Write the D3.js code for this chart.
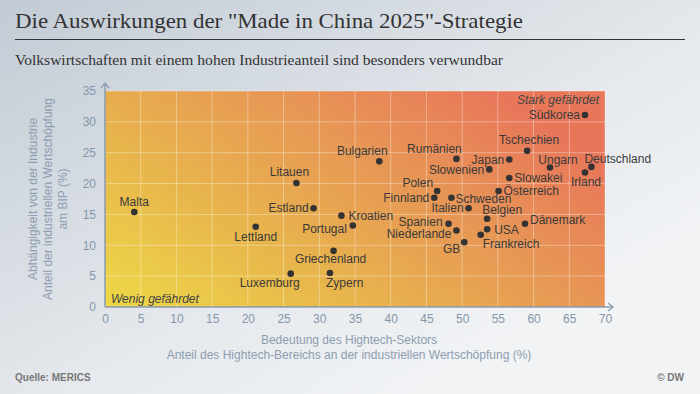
<!DOCTYPE html>
<html>
<head>
<meta charset="utf-8">
<script src="https://cdn.jsdelivr.net/npm/d3@7"></script>
<style>
    body { margin: 0; }
    svg { display: block; font-family: "Liberation Sans", Arial, sans-serif; }
</style>
</head>
<body>
<div id="chart"></div>
<script>
// Länder, Anteil Hightech (x) und Industrieanteil am BIP (y)
const countries = ["Malta", "Litauen", "Estland", "Kroatien", "Portugal", "Lettland", "Griechenland",
    "Luxemburg", "Zypern", "Südkorea", "Tschechien", "Bulgarien", "Rumänien", "Japan", "Ungarn",
    "Deutschland", "Irland", "Slowenien", "Slowakei", "Polen", "Österreich", "Finnland", "Schweden",
    "Italien", "Belgien", "Dänemark", "Spanien", "USA", "Niederlande", "Frankreich", "GB"];
const hightech = [4.1, 26.8, 29.2, 33.1, 34.7, 21.1, 32.0,
    26.0, 31.5, 67.2, 59.1, 38.4, 49.2, 56.6, 62.3,
    68.1, 67.2, 53.8, 56.6, 46.5, 55.1, 46.1, 48.5,
    50.9, 53.5, 58.8, 48.1, 53.5, 49.2, 52.6, 50.3];
const industry = [15.4, 20.1, 16.0, 14.8, 13.2, 13.0, 9.1,
    5.4, 5.5, 31.1, 25.3, 23.6, 24.0, 23.9, 22.6,
    22.7, 21.8, 22.3, 20.9, 18.8, 18.8, 17.7, 17.7,
    16.0, 14.3, 13.5, 13.5, 12.6, 12.4, 11.7, 10.5];
const xTicks = [0, 5, 10, 15, 20, 25, 30, 35, 40, 45, 50, 55, 60, 65, 70];
const yTicks = [0, 5, 10, 15, 20, 25, 30, 35];

// Beschriftung: Ausrichtung, dx, dy relativ zum Punkt
const labelPos = {
    "Malta": ["middle", 0, -6], "Litauen": ["middle", -7, -7], "Estland": ["end", -5, 4],
    "Kroatien": ["start", 7, 4], "Portugal": ["end", -6, 7], "Lettland": ["middle", 0, 14],
    "Griechenland": ["middle", -3, 12], "Luxemburg": ["end", 9, 13], "Zypern": ["start", -4, 14],
    "Südkorea": ["end", -5, 4], "Tschechien": ["middle", 2, -7], "Bulgarien": ["middle", -17, -6],
    "Rumänien": ["middle", -22, -6], "Japan": ["end", -5, 4], "Ungarn": ["middle", 8, -4],
    "Deutschland": ["start", -7, -4], "Irland": ["middle", 1, 14], "Slowenien": ["end", -5, 5],
    "Slowakei": ["start", 5, 4], "Polen": ["end", -4, -4], "Österreich": ["start", 5, 4],
    "Finnland": ["end", -5, 4], "Schweden": ["start", 4, 5], "Italien": ["end", -5, 4],
    "Belgien": ["start", -5, -5], "Dänemark": ["start", 5, 0], "Spanien": ["end", -6, 2],
    "USA": ["start", 7, 5], "Niederlande": ["end", -5, 8], "Frankreich": ["start", 2, 13],
    "GB": ["end", -4, 11]
};

const width = 700, height = 394;
const margin = {top: 91, right: 95, bottom: 87, left: 105};
const plotW = width - margin.left - margin.right;
const plotH = height - margin.top - margin.bottom;

const svg = d3.select("#chart").append("svg")
    .attr("width", width)
    .attr("height", height);

const defs = svg.append("defs");

let bg = defs.append("linearGradient")
    .attr("id", "bg")
    .attr("x1", "0").attr("y1", "0")
    .attr("x2", "1").attr("y2", "1");
bg.append("stop").attr("offset", "0").attr("stop-color", "#c2cbd5");
bg.append("stop").attr("offset", "0.55").attr("stop-color", "#e6e9ed");
bg.append("stop").attr("offset", "0.8").attr("stop-color", "#f1f3f5");
bg.append("stop").attr("offset", "1").attr("stop-color", "#f1f3f5");

let heat = defs.append("linearGradient")
    .attr("id", "heat")
    .attr("x1", "0").attr("y1", "1")
    .attr("x2", "1").attr("y2", "0.35");
heat.append("stop").attr("offset", "0").attr("stop-color", "#edd947");
heat.append("stop").attr("offset", "0.35").attr("stop-color", "#e8b64c");
heat.append("stop").attr("offset", "0.7").attr("stop-color", "#e79655");
heat.append("stop").attr("offset", "1").attr("stop-color", "#e8775a");

svg.append("rect")
    .attr("width", width)
    .attr("height", height)
    .attr("fill", "url(#bg)");

// Titel
svg.append("text")
    .attr("x", 15).attr("y", 28)
    .attr("font-family", "'Liberation Serif', 'DejaVu Serif', serif")
    .attr("font-size", 21)
    .attr("fill", "#333")
    .attr("textLength", 508)
    .attr("lengthAdjust", "spacingAndGlyphs")
    .text("Die Auswirkungen der \"Made in China 2025\"-Strategie");

svg.append("line")
    .attr("x1", 15).attr("x2", 685)
    .attr("y1", 39.5).attr("y2", 39.5)
    .attr("stroke", "#333")
    .attr("stroke-width", 1.2);

svg.append("text")
    .attr("x", 15).attr("y", 65)
    .attr("font-family", "'Liberation Serif', 'DejaVu Serif', serif")
    .attr("font-size", 14)
    .attr("fill", "#333")
    .attr("textLength", 488)
    .attr("lengthAdjust", "spacingAndGlyphs")
    .text("Volkswirtschaften mit einem hohen Industrieanteil sind besonders verwundbar");

const g = svg.append("g")
    .attr("transform", "translate(" + margin.left + "," + margin.top + ")");

const x = d3.scaleLinear().domain([0, 70]).range([0, plotW]);
const y = d3.scaleLinear().domain([0, 35]).range([plotH, 0]);

g.append("rect")
    .attr("width", plotW)
    .attr("height", plotH)
    .attr("fill", "url(#heat)");

// Gitter
g.selectAll(".vgrid")
    .data(xTicks.slice(1))
    .enter().append("line")
    .attr("class", "vgrid")
    .attr("x1", d => x(d)).attr("x2", d => x(d))
    .attr("y1", 0).attr("y2", plotH)
    .attr("stroke", "#fff")
    .attr("stroke-opacity", 0.35);

g.selectAll(".hgrid")
    .data(yTicks.slice(1))
    .enter().append("line")
    .attr("class", "hgrid")
    .attr("x1", 0).attr("x2", plotW)
    .attr("y1", d => y(d)).attr("y2", d => y(d))
    .attr("stroke", "#fff")
    .attr("stroke-opacity", 0.35);

// Achsen
const axisColor = "#8a9bb0";

let xAxis = g.append("g")
    .attr("transform", "translate(0," + plotH + ")")
    .call(d3.axisBottom(x).tickValues(xTicks).tickSize(0).tickPadding(7));
xAxis.select(".domain").remove();
xAxis.selectAll("text")
    .attr("font-size", 12)
    .attr("fill", "#8596aa")
    .attr("font-family", "'Liberation Sans', Arial, sans-serif");

let yAxis = g.append("g")
    .call(d3.axisLeft(y).tickValues(yTicks).tickSize(0).tickPadding(9));
yAxis.select(".domain").remove();
yAxis.selectAll("text")
    .attr("font-size", 12)
    .attr("fill", "#8596aa")
    .attr("font-family", "'Liberation Sans', Arial, sans-serif");

g.append("line")
    .attr("x1", 0).attr("x2", plotW + 8)
    .attr("y1", plotH).attr("y2", plotH)
    .attr("stroke", axisColor).attr("stroke-width", 1.5);
g.append("path")
    .attr("d", "M" + (plotW + 3) + "," + (plotH - 4) + "L" + (plotW + 8) + "," + plotH + "L" + (plotW + 3) + "," + (plotH + 4))
    .attr("fill", "none").attr("stroke", axisColor).attr("stroke-width", 1.3);

g.append("line")
    .attr("x1", 0).attr("x2", 0)
    .attr("y1", plotH).attr("y2", -8)
    .attr("stroke", axisColor).attr("stroke-width", 1.5);
g.append("path")
    .attr("d", "M-4,-3L0,-8L4,-3")
    .attr("fill", "none").attr("stroke", axisColor).attr("stroke-width", 1.3);

// Achsentitel
const titleColor = "#8d9db1";
let xt = svg.append("text")
    .attr("text-anchor", "middle")
    .attr("font-size", 12)
    .attr("fill", titleColor);
xt.append("tspan").attr("x", 349).attr("y", 344).text("Bedeutung des Hightech-Sektors");
xt.append("tspan").attr("x", 349).attr("y", 359).text("Anteil des Hightech-Bereichs an der industriellen Wertschöpfung (%)");

let yt = svg.append("text")
    .attr("text-anchor", "middle")
    .attr("font-size", 12)
    .attr("fill", titleColor)
    .attr("transform", "translate(0," + (margin.top + plotH / 2) + ") rotate(-90)");
yt.append("tspan").attr("x", 0).attr("y", 37).text("Abhängigkeit von der Industrie");
yt.append("tspan").attr("x", 0).attr("y", 52).text("Anteil der industriellen Wertschöpfung");
yt.append("tspan").attr("x", 0).attr("y", 67).text("am BIP (%)");

// Eckbeschriftungen
g.append("text")
    .attr("x", 6).attr("y", plotH - 4)
    .attr("font-size", 12)
    .attr("font-style", "italic")
    .attr("fill", "#444")
    .text("Wenig gefährdet");

g.append("text")
    .attr("x", plotW - 6).attr("y", 13)
    .attr("text-anchor", "end")
    .attr("font-size", 12)
    .attr("font-style", "italic")
    .attr("fill", "#444")
    .text("Stark gefährdet");

// Punkte
const points = countries.map((c, i) => ({name: c, x: hightech[i], y: industry[i]}));

g.selectAll(".dot")
    .data(points)
    .enter().append("circle")
    .attr("class", "dot")
    .attr("cx", d => x(d.x))
    .attr("cy", d => y(d.y))
    .attr("r", 3.3)
    .attr("fill", "#333");

g.selectAll(".label")
    .data(points)
    .enter().append("text")
    .attr("class", "label")
    .attr("x", d => x(d.x) + labelPos[d.name][1])
    .attr("y", d => y(d.y) + labelPos[d.name][2])
    .attr("text-anchor", d => labelPos[d.name][0])
    .attr("font-size", 12)
    .attr("fill", "#3a3a3a")
    .text(d => d.name);

// Fußzeile
svg.append("text")
    .attr("x", 15).attr("y", 381)
    .attr("font-size", 10)
    .attr("font-weight", "bold")
    .attr("fill", "#777")
    .text("Quelle: MERICS");

svg.append("text")
    .attr("x", 684).attr("y", 381)
    .attr("text-anchor", "end")
    .attr("font-size", 10)
    .attr("font-weight", "bold")
    .attr("fill", "#777")
    .text("© DW");
</script>
</body>
</html>
